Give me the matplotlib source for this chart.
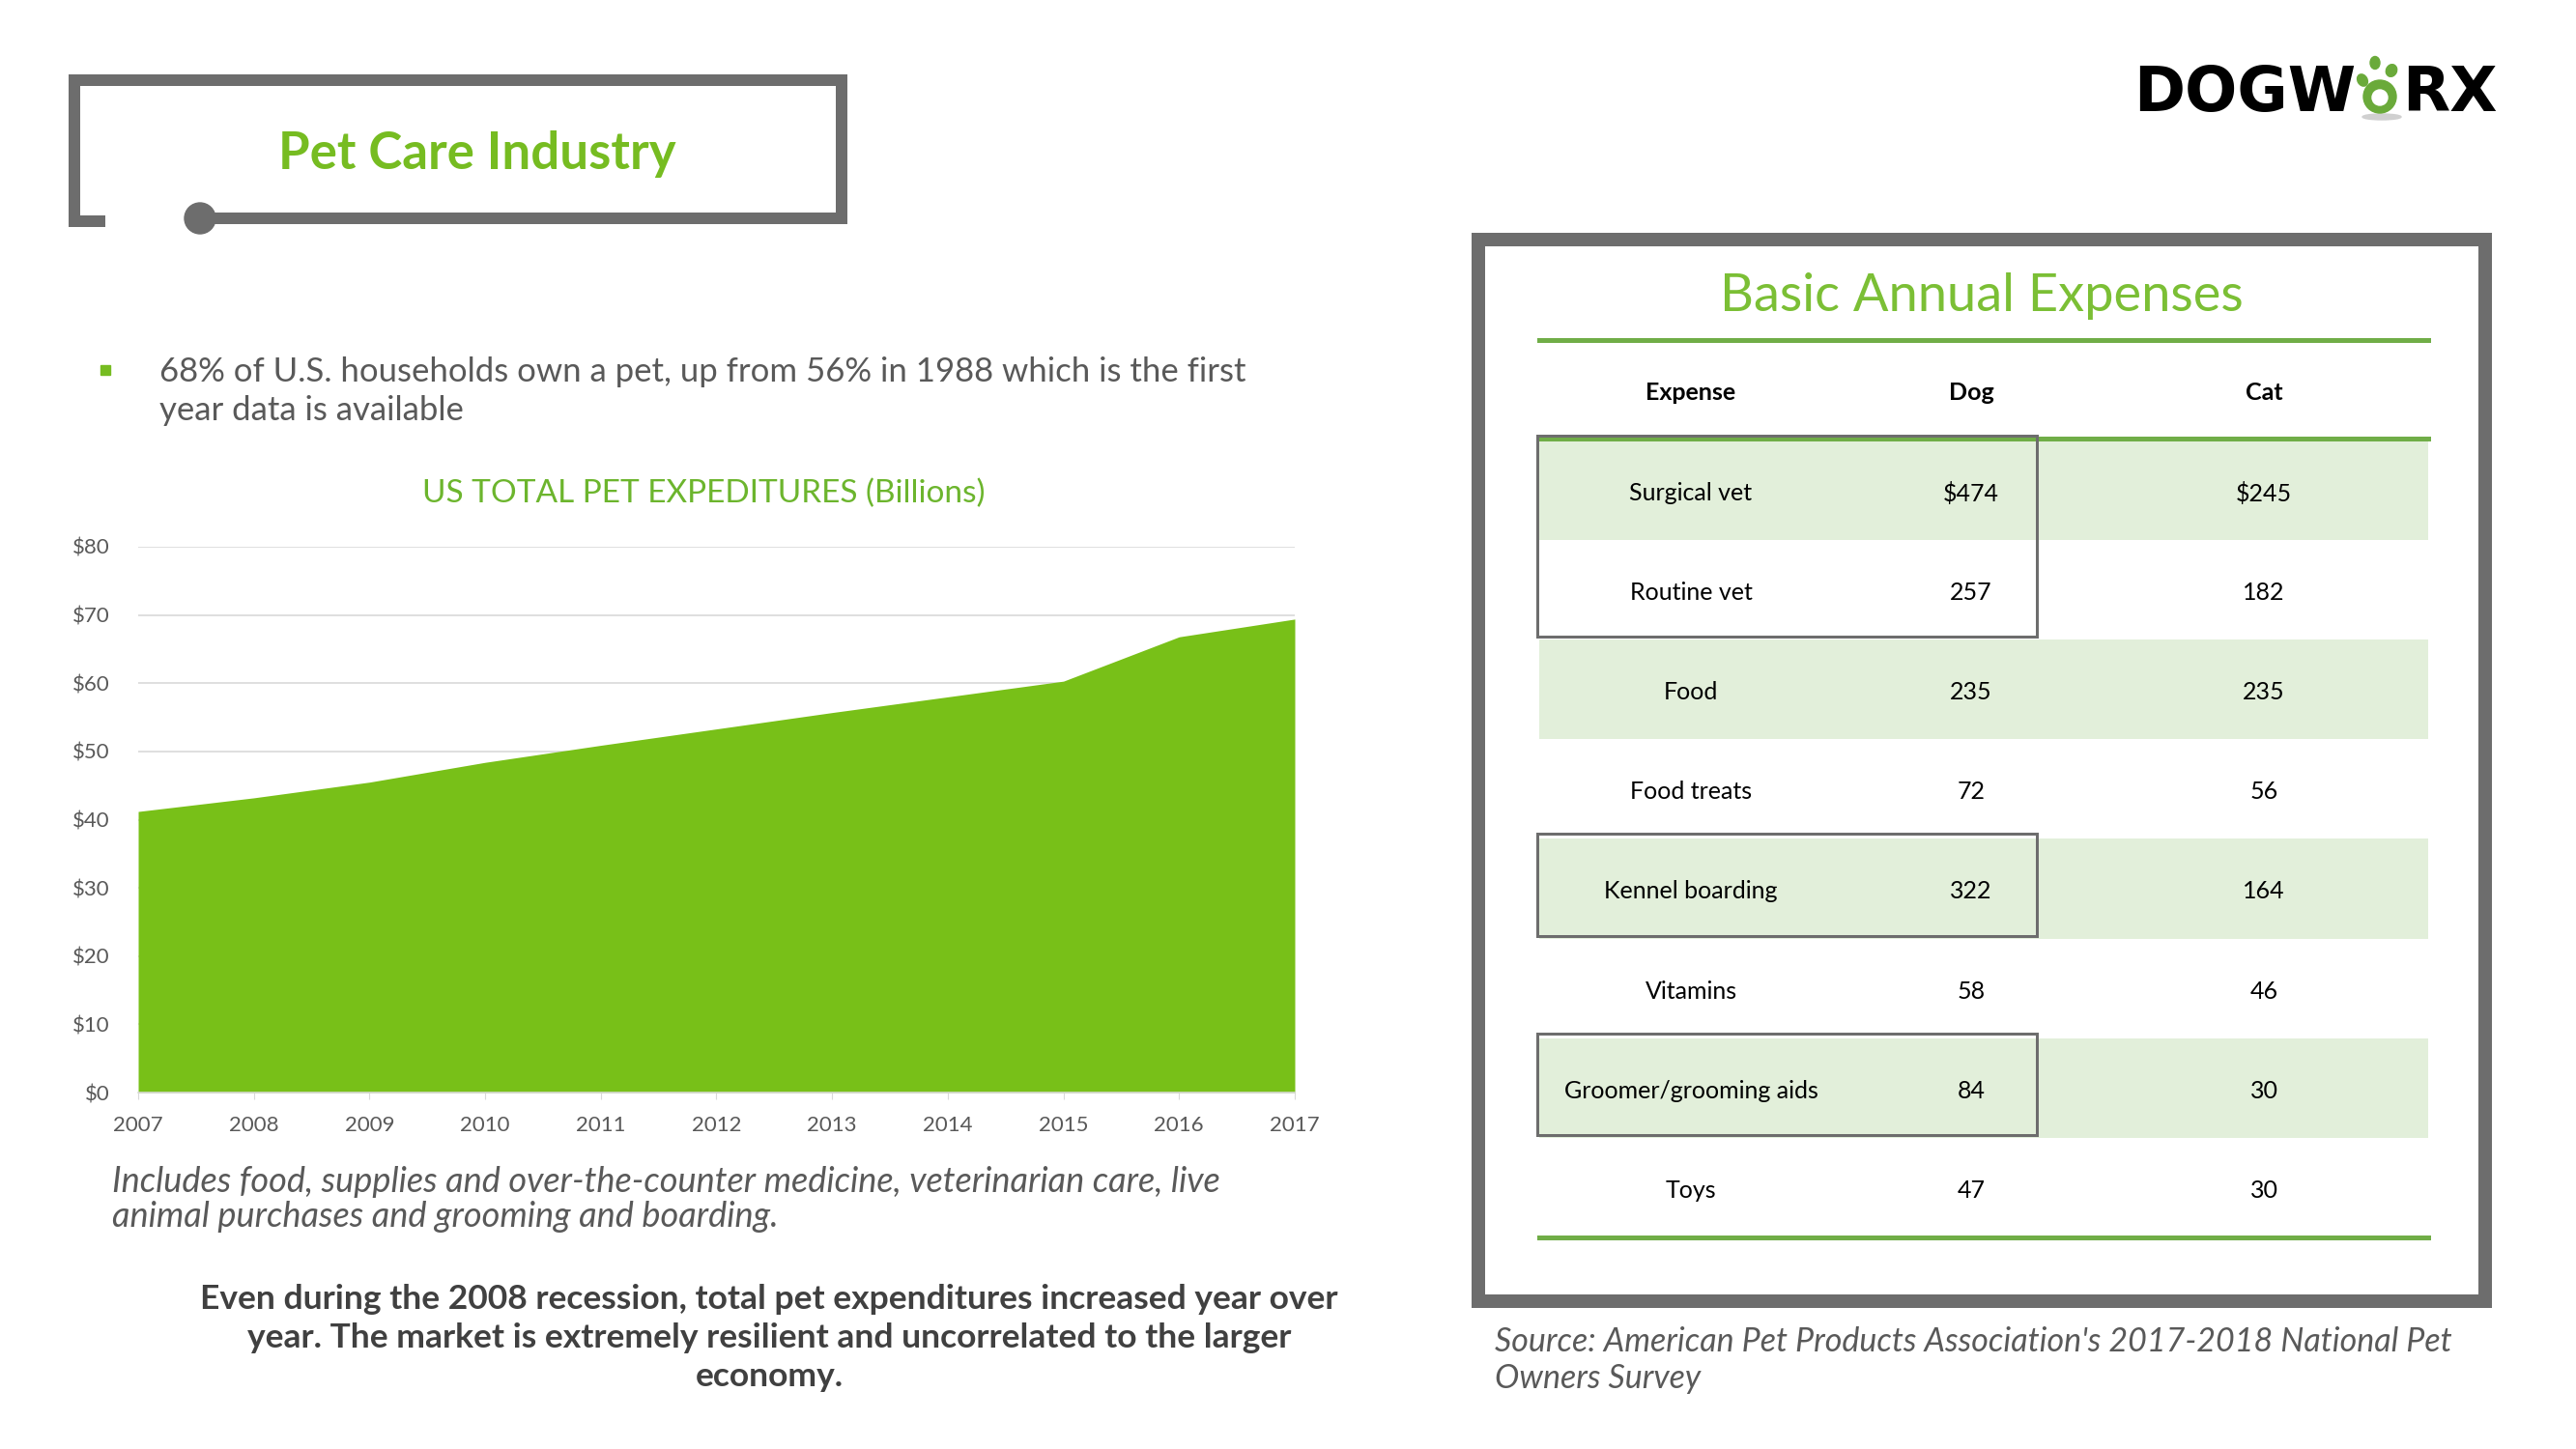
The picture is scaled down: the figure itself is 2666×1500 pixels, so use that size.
import matplotlib
matplotlib.use("Agg")
import matplotlib.pyplot as plt
from matplotlib.patches import Rectangle, Circle, Ellipse

plt.rcParams['font.family'] = ['Lato', 'DejaVu Sans']

# chart data (US total pet expenditures, $ billions)
years = [2007, 2008, 2009, 2010, 2011, 2012, 2013, 2014, 2015, 2016, 2017]
spend = [41.2, 43.2, 45.5, 48.4, 50.9, 53.3, 55.7, 58.0, 60.3, 66.8, 69.4]
y_ticks = [0, 10, 20, 30, 40, 50, 60, 70, 80]

# table data
col_names = ["Expense", "Dog", "Cat"]
expenses = ["Surgical vet", "Routine vet", "Food", "Food treats",
            "Kennel boarding", "Vitamins", "Groomer/grooming aids", "Toys"]
dog_cost = [474, 257, 235, 72, 322, 58, 84, 47]
cat_cost = [245, 182, 235, 56, 164, 46, 30, 30]
shaded_rows = [0, 2, 4, 6]
boxed_rows = [(0, 1), (4, 4), (6, 6)]

W, H = 2666, 1500
GRAY = '#6d6d6d'
GREEN = '#76bc21'
LINE_GREEN = '#70ad47'
TXT = '#595959'
PX = 0.72  # px -> pt at 100 dpi

fig = plt.figure(figsize=(W / 100, H / 100), dpi=100)
bg = fig.add_axes([0, 0, 1, 1])
bg.set_xlim(0, W)
bg.set_ylim(H, 0)
bg.axis('off')

# ---- title box ----
bg.plot([103, 77, 77, 871, 871, 207], [229, 229, 83, 83, 226, 226],
        color=GRAY, lw=12 * PX, solid_joinstyle='miter', solid_capstyle='projecting')
bg.add_patch(Circle((207, 226), 16, color=GRAY))
bg.text(494, 175, "Pet Care Industry", color=GREEN, fontsize=38,
        fontweight='bold', ha='center', va='baseline')

# ---- logo ----
lx = -7
bg.text(2215 + lx, 115, "DOGW", fontsize=46, fontweight='bold', family='DejaVu Sans',
        color='black', ha='left', va='baseline')
paw = '#6aaa3a'
bg.add_patch(Ellipse((2472 + lx, 121), 40, 6, color='#d0d0d0'))
bg.add_patch(Circle((2470 + lx, 100), 17, color=paw))
bg.add_patch(Circle((2470 + lx, 101), 8, color='white'))
bg.add_patch(Ellipse((2452 + lx, 83), 10, 13, angle=-30, color=paw))
bg.add_patch(Ellipse((2465 + lx, 65), 10, 13, angle=0, color=paw))
bg.add_patch(Ellipse((2482 + lx, 73), 11, 13, angle=25, color=paw))
bg.text(2493 + lx, 115, "RX", fontsize=46, fontweight='bold', family='DejaVu Sans',
        color='black', ha='left', va='baseline')

# ---- bullet text ----
bg.add_patch(Rectangle((104, 378), 10, 10, color=GREEN))
bg.text(165, 395, "68% of U.S. households own a pet, up from 56% in 1988 which is the first",
        fontsize=25, color=TXT, va='baseline')
bg.text(165, 435, "year data is available", fontsize=25, color=TXT, va='baseline')

# ---- chart ----
bg.text(728, 520, "US TOTAL PET EXPEDITURES (Billions)", fontsize=24,
        color='#6cb52d', ha='center', va='baseline')

ax = fig.add_axes([143 / W, (H - 1131) / H, 1197 / W, 565 / H])
ax.patch.set_alpha(0)
ax.fill_between(years, spend, 0, color='#78c018', lw=0, zorder=2)
ax.set_xlim(years[0], years[-1])
ax.set_ylim(0, 80)
ax.set_yticks(y_ticks)
ax.set_yticklabels([f"${v}" for v in y_ticks])
ax.set_xticks(years)
ax.grid(axis='y', color='#d9d9d9', lw=1.2, zorder=0)
ax.set_axisbelow(True)
for s in ['top', 'right', 'left']:
    ax.spines[s].set_visible(False)
ax.spines['bottom'].set_color('#d9d9d9')
ax.spines['bottom'].set_linewidth(1.2)
ax.tick_params(axis='y', length=0, pad=21, labelsize=16, labelcolor=TXT)
ax.tick_params(axis='x', length=5, color='#d9d9d9', pad=12, labelsize=16, labelcolor=TXT)

bg.text(116, 1234, "Includes food, supplies and over-the-counter medicine, veterinarian care, live",
        fontsize=26, style='italic', color=TXT, va='baseline')
bg.text(116, 1270, "animal purchases and grooming and boarding.",
        fontsize=26, style='italic', color=TXT, va='baseline')

statement = ["Even during the 2008 recession, total pet expenditures increased year over",
             "year. The market is extremely resilient and uncorrelated to the larger",
             "economy."]
for i, line in enumerate(statement):
    bg.text(796, 1355 + 40 * i, line, fontsize=25.5, fontweight='bold',
            color='#404040', ha='center', va='baseline')

# ---- table ----
bg.add_patch(Rectangle((1530, 248), 1042, 1099, fill=False, ec=GRAY, lw=14 * PX))
bg.text(2051, 322, "Basic Annual Expenses", fontsize=39, fontweight='normal',
        color='#7bbf35', ha='center', va='baseline')

tx0, tx1 = 1593, 2513
row_top, rh = 456, 103.1
col_x = [1750, 2040, 2343]

for r in shaded_rows:
    bg.add_patch(Rectangle((tx0, row_top + r * rh), tx1 - tx0, rh, color='#e2efda', lw=0))

bg.plot([tx0, tx1], [352, 352], color=LINE_GREEN, lw=5 * PX)
bg.plot([tx0, tx1], [row_top - 2, row_top - 2], color=LINE_GREEN, lw=5 * PX)
bg.plot([tx0, tx1], [row_top + len(expenses) * rh, row_top + len(expenses) * rh],
        color=LINE_GREEN, lw=5 * PX)

for x, name in zip(col_x, col_names):
    bg.text(x, 407, name, fontsize=18, fontweight='bold', color='black',
            ha='center', va='center')

for i, (name, d, c) in enumerate(zip(expenses, dog_cost, cat_cost)):
    yc = row_top + (i + 0.5) * rh + 3
    d_txt = f"${d}" if i == 0 else str(d)
    c_txt = f"${c}" if i == 0 else str(c)
    for x, t in zip(col_x, [name, d_txt, c_txt]):
        bg.text(x, yc, t, fontsize=18, color='black', ha='center', va='center')

for a, b in boxed_rows:
    bg.add_patch(Rectangle((1591, row_top + a * rh - 5), 517, (b - a + 1) * rh + 2,
                           fill=False, ec=GRAY, lw=3 * PX, zorder=5))

bg.text(1547, 1399, "Source: American Pet Products Association's 2017-2018 National Pet",
        fontsize=24.5, style='italic', color=TXT, va='baseline')
bg.text(1547, 1437, "Owners Survey", fontsize=24.5, style='italic', color=TXT, va='baseline')

fig.savefig("out.png", dpi=100, facecolor='white')
